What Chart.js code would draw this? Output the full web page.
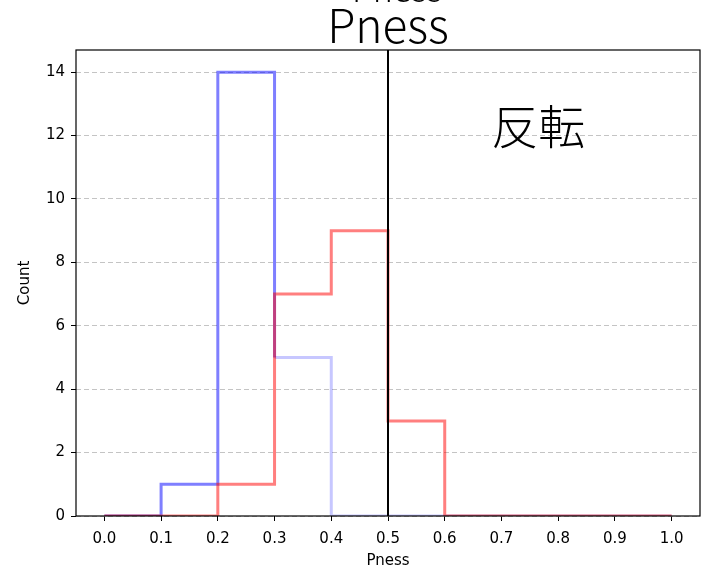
<!DOCTYPE html>
<html>
<head>
<meta charset="utf-8">
<script src="https://cdn.jsdelivr.net/npm/chart.js@4/dist/chart.umd.min.js"></script>
<style>
  html, body { margin: 0; padding: 0; background: #ffffff; }
  #wrap { width: 702px; height: 569px; position: relative; }
</style>
</head>
<body>
<div id="wrap"><canvas id="chart" width="702" height="569"></canvas></div>
<script>
// Histogram bins and counts
const binEdges = [0.0, 0.1, 0.2, 0.3, 0.4, 0.5, 0.6, 0.7, 0.8, 0.9, 1.0];
const blueCounts = [0, 1, 14, 5, 0, 0, 0, 0, 0, 0];
const redCounts  = [0, 0, 1, 7, 9, 3, 0, 0, 0, 0];
const xTicks = [0.0, 0.1, 0.2, 0.3, 0.4, 0.5, 0.6, 0.7, 0.8, 0.9, 1.0];
const yTicks = [0, 2, 4, 6, 8, 10, 12, 14];
const threshold = 0.5;
const titleText = 'Pness';
const xLabel = 'Pness';
const yLabel = 'Count';
const noteText = '反転';

// Step outline of a histogram, as drawn by a "step" histtype
function stepOutline(edges, counts) {
  const pts = [{ x: edges[0], y: 0 }];
  counts.forEach((c, i) => {
    pts.push({ x: edges[i], y: c });
    pts.push({ x: edges[i + 1], y: c });
  });
  pts.push({ x: edges[edges.length - 1], y: 0 });
  return pts;
}

const TICK_FONT = { family: 'DejaVu Sans', size: 15 };

const overlay = {
  id: 'overlay',
  afterDraw(chart) {
    const { ctx, chartArea: a, scales } = chart;
    const xs = scales.x, ys = scales.y;
    ctx.save();
    // threshold line
    const tx = Math.round(xs.getPixelForValue(threshold));
    ctx.strokeStyle = '#000';
    ctx.lineWidth = 2;
    ctx.beginPath();
    ctx.moveTo(tx, a.top);
    ctx.lineTo(tx, a.bottom);
    ctx.stroke();
    // axes frame
    ctx.lineWidth = 1.2;
    ctx.strokeStyle = '#000';
    ctx.strokeRect(a.left, a.top, a.right - a.left, a.bottom - a.top);
    // annotation inside the plot
    ctx.fillStyle = '#000';
    ctx.font = '300 47px "Noto Sans CJK JP"';
    ctx.textAlign = 'left';
    ctx.textBaseline = 'middle';
    ctx.fillText(noteText, xs.getPixelForValue(0.682), ys.getPixelForValue(12.3));
    // titles
    ctx.textAlign = 'center';
    ctx.textBaseline = 'alphabetic';
    ctx.font = '300 34px "Noto Sans CJK JP"';
    ctx.fillText(titleText, 397, 2);
    ctx.font = '300 46px "Noto Sans CJK JP"';
    ctx.fillText(titleText, (a.left + a.right) / 2, 43);
    // axis labels
    ctx.font = '15px "DejaVu Sans"';
    ctx.textBaseline = 'middle';
    ctx.fillText(xLabel, (a.left + a.right) / 2, 561);
    ctx.translate(25, (a.top + a.bottom) / 2);
    ctx.rotate(-Math.PI / 2);
    ctx.fillText(yLabel, 0, 0);
    ctx.restore();
  }
};

new Chart(document.getElementById('chart'), {
  type: 'line',
  data: {
    datasets: [
      {
        label: 'red',
        data: stepOutline(binEdges, redCounts),
        borderColor: 'rgba(255,0,0,0.5)',
        borderWidth: 3,
        pointRadius: 0,
        tension: 0,
        fill: false
      },
      {
        label: 'blue',
        data: stepOutline(binEdges, blueCounts),
        borderColor: 'rgba(0,0,255,0.5)',
        borderWidth: 3,
        pointRadius: 0,
        tension: 0,
        fill: false,
        segment: {
          borderColor: (c) => (c.p0.parsed.x >= 0.3 && c.p1.parsed.x >= 0.3 &&
            Math.max(c.p0.parsed.y, c.p1.parsed.y) <= 5) ? 'rgba(0,0,255,0.22)' : 'rgba(0,0,255,0.5)'
        }
      }
    ]
  },
  options: {
    responsive: false,
    animation: false,
    parsing: true,
    layout: { padding: { left: 0, right: 2, top: 50, bottom: 0 } },
    plugins: { legend: { display: false }, tooltip: { enabled: false }, title: { display: false } },
    scales: {
      x: {
        type: 'linear',
        min: -0.05,
        max: 1.05,
        afterBuildTicks: (s) => { s.ticks = xTicks.map(v => ({ value: v })); },
        afterFit: (s) => { s.height = 53; },
        ticks: {
          font: TICK_FONT, color: '#000', padding: 9, maxRotation: 0, autoSkip: false,
          callback: (v) => Number(v).toFixed(1)
        },
        grid: { drawOnChartArea: false, tickLength: 5, tickColor: '#000', tickWidth: 1 },
        border: { display: false }
      },
      y: {
        type: 'linear',
        min: 0,
        max: 14.7,
        afterBuildTicks: (s) => { s.ticks = yTicks.map(v => ({ value: v })); },
        afterFit: (s) => { s.width = 76; },
        ticks: { font: TICK_FONT, color: '#000', padding: 6, autoSkip: false },
        grid: { color: 'rgba(176,176,176,0.75)', lineWidth: 1, tickLength: 5, tickColor: '#000', tickWidth: 1 },
        border: { display: false, dash: [5, 3] }
      }
    }
  },
  plugins: [overlay]
});
</script>
</body>
</html>
